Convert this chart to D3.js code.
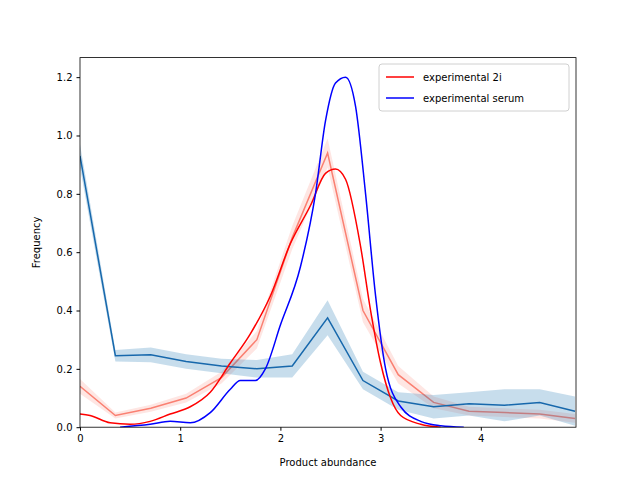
<!DOCTYPE html>
<html><head><meta charset="utf-8">
<script src="https://cdn.jsdelivr.net/npm/d3@7"></script>
<style>body{margin:0;background:#fff}text{font-family:"DejaVu Sans",sans-serif}</style>
</head><body><svg id="c" width="640" height="480"></svg>
<script>
const binX=[0,0.353,0.706,1.059,1.412,1.765,2.118,2.471,2.824,3.176,3.529,3.882,4.235,4.588,4.94];
const twoI=[0.14,0.04,0.065,0.1,0.17,0.3,0.65,0.94,0.4,0.18,0.085,0.055,0.05,0.045,0.03];
const twoIErr=[0.025,0.01,0.012,0.015,0.02,0.03,0.04,0.05,0.04,0.03,0.02,0.015,0.015,0.015,0.015];
const serum=[0.93,0.245,0.248,0.225,0.21,0.2,0.21,0.375,0.16,0.09,0.07,0.08,0.075,0.085,0.055];
const serumErr=[0.04,0.02,0.025,0.025,0.025,0.03,0.04,0.06,0.03,0.03,0.04,0.04,0.055,0.045,0.05];
const kde2iX=[0,0.1,0.3,0.5,0.7,0.9,1.1,1.3,1.5,1.7,1.9,2.1,2.3,2.45,2.55,2.65,2.8,2.9,3.0,3.1,3.2,3.4,3.6];
const kde2iY=[0.045,0.04,0.015,0.01,0.02,0.045,0.07,0.12,0.22,0.32,0.45,0.63,0.76,0.87,0.885,0.85,0.62,0.4,0.22,0.1,0.04,0.01,0];
const kdeSX=[0.4,0.7,0.9,1.1,1.3,1.5,1.6,1.75,1.85,2.0,2.2,2.35,2.45,2.55,2.65,2.75,2.85,2.95,3.05,3.2,3.4,3.6,3.83];
const kdeSY=[0,0.01,0.02,0.015,0.05,0.13,0.16,0.16,0.2,0.35,0.55,0.8,1.05,1.18,1.2,1.1,0.8,0.45,0.2,0.07,0.02,0.005,0];
const xTicks=[0,1,2,3,4], yTicks=[0,0.2,0.4,0.6,0.8,1.0,1.2];
const L=80,R=576,T=57.6,B=427.2;
const svg=d3.select("#c");
const x=d3.scaleLinear().domain([0,4.95]).range([L,R]);
const y=d3.scaleLinear().domain([0,1.267]).range([B,T]);
const area=(v,e)=>d3.area().x((d,i)=>x(binX[i])).y0((d,i)=>y(Math.max(0,v[i]-e[i]))).y1((d,i)=>y(v[i]+e[i]));
const line=(xs,ys,curve)=>d3.line().x((d,i)=>x(xs[i])).y((d,i)=>y(ys[i])).curve(curve||d3.curveLinear);
const g=svg.append("g").attr("clip-path","url(#cl)");
svg.append("clipPath").attr("id","cl").append("rect").attr("x",L).attr("y",T).attr("width",R-L).attr("height",B-T);
g.append("path").attr("d",area(twoI,twoIErr)(binX)).attr("fill","#fa8072").attr("opacity",0.2);
g.append("path").attr("d",line(binX,twoI)(binX)).attr("fill","none").attr("stroke","#fa8072").attr("stroke-width",1.5);
g.append("path").attr("d",area(serum,serumErr)(binX)).attr("fill","#1f77b4").attr("opacity",0.25);
g.append("path").attr("d",line(binX,serum)(binX)).attr("fill","none").attr("stroke","#1768ac").attr("stroke-width",1.5);
g.append("path").attr("d",line(kde2iX,kde2iY,d3.curveMonotoneX)(kde2iX)).attr("fill","none").attr("stroke","red").attr("stroke-width",1.5);
g.append("path").attr("d",line(kdeSX,kdeSY,d3.curveMonotoneX)(kdeSX)).attr("fill","none").attr("stroke","blue").attr("stroke-width",1.5);
svg.append("g").attr("transform",`translate(0,${B})`).call(d3.axisBottom(x).tickValues(xTicks).tickFormat(d3.format("d")).tickSizeOuter(0).tickSize(3.5).tickPadding(4));
svg.append("g").attr("transform",`translate(${L},0)`).call(d3.axisLeft(y).tickValues(yTicks).tickFormat(d3.format(".1f")).tickSizeOuter(0).tickSize(3.5).tickPadding(4));
svg.selectAll(".tick text").attr("font-size",10).attr("fill","#000").style("font-family","DejaVu Sans");
svg.selectAll(".domain").remove();
svg.append("rect").attr("x",L).attr("y",T).attr("width",R-L).attr("height",B-T).attr("fill","none").attr("stroke","#000").attr("stroke-width",0.8);
svg.append("text").attr("x",(L+R)/2).attr("y",466).attr("text-anchor","middle").attr("font-size",10).text("Product abundance");
svg.append("text").attr("transform",`translate(40,${(T+B)/2}) rotate(-90)`).attr("text-anchor","middle").attr("font-size",10).text("Frequency");
const lg=svg.append("g");
lg.append("rect").attr("x",379).attr("y",64).attr("width",190).attr("height",47).attr("rx",3).attr("fill","#fff").attr("stroke","#ccc").attr("opacity",0.9);
[["experimental 2i","red"],["experimental serum","blue"]].forEach((d,i)=>{
  const yy=77+i*21;
  lg.append("line").attr("x1",386).attr("x2",414).attr("y1",yy).attr("y2",yy).attr("stroke",d[1]).attr("stroke-width",1.5);
  lg.append("text").attr("x",423).attr("y",yy+4).attr("font-size",10).text(d[0]);
});
</script></body></html>
